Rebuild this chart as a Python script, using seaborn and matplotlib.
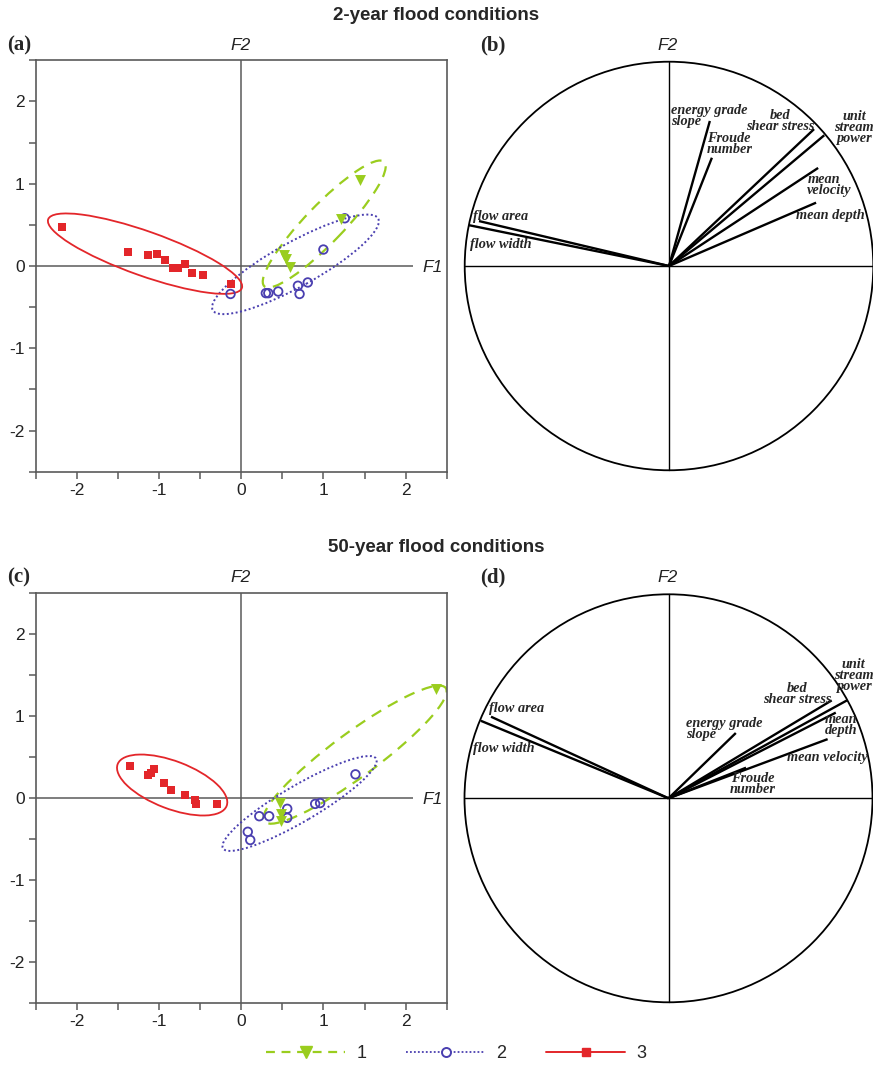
import matplotlib
matplotlib.use('Agg')
import numpy as np
import pandas as pd
import matplotlib.pyplot as plt
import seaborn as sns
from matplotlib.patches import Ellipse, Circle
from matplotlib.ticker import MultipleLocator
from matplotlib.lines import Line2D

# ---- factor scores, 2-year flood (panel a)
a_g1_f1 = [1.45, 1.22, 0.52, 0.55, 0.59]
a_g1_f2 = [1.05, 0.57, 0.13, 0.09, -0.01]
a_g2_f1 = [-0.13, 0.30, 0.33, 0.45, 0.69, 0.71, 0.81, 1.00, 1.26]
a_g2_f2 = [-0.34, -0.33, -0.33, -0.31, -0.24, -0.34, -0.20, 0.20, 0.58]
a_g3_f1 = [-2.18, -1.38, -1.13, -1.03, -0.93, -0.83, -0.77, -0.68, -0.60, -0.46, -0.12]
a_g3_f2 = [0.48, 0.17, 0.13, 0.15, 0.07, -0.03, -0.03, 0.02, -0.08, -0.11, -0.22]

# ---- factor scores, 50-year flood (panel c)
c_g1_f1 = [2.37, 0.47, 0.48, 0.49]
c_g1_f2 = [1.33, -0.06, -0.19, -0.28]
c_g2_f1 = [0.08, 0.11, 0.22, 0.34, 0.56, 0.56, 0.90, 0.96, 1.39]
c_g2_f2 = [-0.41, -0.51, -0.22, -0.22, -0.13, -0.24, -0.07, -0.06, 0.29]
c_g3_f1 = [-1.35, -1.13, -1.10, -1.06, -0.94, -0.85, -0.68, -0.56, -0.55, -0.30]
c_g3_f2 = [0.39, 0.28, 0.31, 0.35, 0.19, 0.10, 0.04, -0.02, -0.07, -0.07]

# group ellipses: centre x, centre y, semi-major, semi-minor, angle (deg)
a_ellipses = {'1': (1.01, 0.51, 1.05, 0.23, 46),
              '2': (0.66, 0.02, 1.15, 0.27, 29),
              '3': (-1.17, 0.15, 1.25, 0.27, -19.5)}
c_ellipses = {'1': (1.385, 0.53, 1.37, 0.27, 36.4),
              '2': (0.71, -0.065, 1.08, 0.22, 30.4),
              '3': (-0.84, 0.16, 0.71, 0.29, -21)}

# ---- correlation circle loadings
variables = ['flow area', 'flow width', 'energy grade slope', 'Froude number',
             'bed shear stress', 'unit stream power', 'mean velocity', 'mean depth']
b_f1 = [-0.93, -0.98, 0.20, 0.21, 0.71, 0.76, 0.73, 0.72]
b_f2 = [0.22, 0.20, 0.71, 0.53, 0.67, 0.64, 0.48, 0.31]
d_f1 = [-0.87, -0.92, 0.33, 0.38, 0.80, 0.875, 0.78, 0.82]
d_f2 = [0.40, 0.38, 0.32, 0.15, 0.48, 0.48, 0.29, 0.42]

# label text, x, y, ha, va
b_labels = [('flow area', -0.957, 0.241, 'left', 'center'),
            ('flow width', -0.973, 0.103, 'left', 'center'),
            ('energy grade\nslope', 0.012, 0.795, 'left', 'top'),
            ('Froude\nnumber', 0.184, 0.655, 'left', 'top'),
            ('bed\nshear stress', 0.545, 0.77, 'center', 'top'),
            ('unit\nstream\npower', 0.906, 0.765, 'center', 'top'),
            ('mean\nvelocity', 0.677, 0.455, 'left', 'top'),
            ('mean depth', 0.62, 0.246, 'left', 'center')]
d_labels = [('flow area', -0.882, 0.441, 'left', 'center'),
            ('flow width', -0.959, 0.245, 'left', 'center'),
            ('energy grade\nslope', 0.087, 0.40, 'left', 'top'),
            ('Froude\nnumber', 0.414, 0.13, 'center', 'top'),
            ('bed\nshear stress', 0.63, 0.57, 'center', 'top'),
            ('unit\nstream\npower', 0.907, 0.69, 'center', 'top'),
            ('mean\ndepth', 0.768, 0.42, 'left', 'top'),
            ('mean velocity', 0.58, 0.20, 'left', 'center')]

GREEN = '#9acd1e'
BLUE = '#4a3fb0'
RED = '#e3262a'
AXGREY = '#5a5a5a'

W, H = 873, 1068

sns.set_theme(style='ticks')
plt.rcParams['font.family'] = ['Liberation Sans', 'DejaVu Sans']
plt.rcParams['axes.unicode_minus'] = False


def px_box(left, top, width, height):
    return [left / W, 1 - (top + height) / H, width / W, height / H]


def fig_text(fig, x, y, s, **kw):
    fig.text(x / W, 1 - y / H, s, **kw)


def hacer_df(g1x, g1y, g2x, g2y, g3x, g3y):
    filas = []
    for grupo, xs, ys in (('1', g1x, g1y), ('2', g2x, g2y), ('3', g3x, g3y)):
        for x, y in zip(xs, ys):
            filas.append({'F1': x, 'F2': y, 'grupo': grupo})
    return pd.DataFrame(filas)


def graficar_scores(ax, df, elipses):
    estilos = {'1': dict(color=GREEN, ls=(0, (5, 3.5)), lw=1.6),
               '2': dict(color=BLUE, ls=(0, (1, 1.3)), lw=1.4),
               '3': dict(color=RED, ls='-', lw=1.3)}
    for g, (cx, cy, a, b, ang) in elipses.items():
        e = Ellipse((cx, cy), 2 * a, 2 * b, angle=ang, fill=False,
                    edgecolor=estilos[g]['color'], linestyle=estilos[g]['ls'],
                    linewidth=estilos[g]['lw'], zorder=2)
        ax.add_patch(e)

    sns.scatterplot(data=df[df.grupo == '3'], x='F1', y='F2', marker='s',
                    color=RED, s=36, edgecolor=RED, linewidth=0, ax=ax, zorder=3)
    sns.scatterplot(data=df[df.grupo == '2'], x='F1', y='F2', marker='o',
                    color=BLUE, s=38, linewidth=1.3, ax=ax, zorder=3)
    ax.collections[-1].set_facecolor('none')
    ax.collections[-1].set_edgecolor(BLUE)
    sns.scatterplot(data=df[df.grupo == '1'], x='F1', y='F2', marker='v',
                    color=GREEN, s=62, edgecolor=GREEN, linewidth=0, ax=ax, zorder=4)

    ax.axvline(0, color=AXGREY, lw=1.1, zorder=1)
    ax.hlines(0, -2.5, 2.09, color=AXGREY, lw=1.1, zorder=1)
    ax.text(2.2, -0.02, 'F1', style='italic', fontsize=12.5, va='center',
            ha='left', color='#222222')

    ax.set_xlim(-2.5, 2.5)
    ax.set_ylim(-2.5, 2.5)
    ax.xaxis.set_major_locator(MultipleLocator(1))
    ax.yaxis.set_major_locator(MultipleLocator(1))
    ax.xaxis.set_minor_locator(MultipleLocator(0.5))
    ax.yaxis.set_minor_locator(MultipleLocator(0.5))
    ax.tick_params(which='both', length=5, width=1.1, color=AXGREY,
                   labelsize=12.5, labelcolor='#222222', pad=3)
    for sp in ax.spines.values():
        sp.set_color(AXGREY)
        sp.set_linewidth(1.2)
    ax.set_xlabel('')
    ax.set_ylabel('')
    if ax.get_legend() is not None:
        ax.get_legend().remove()


def graficar_circulo(ax, fx, fy, etiquetas):
    ax.add_patch(Circle((0, 0), 1, fill=False, edgecolor='black', lw=1.3))
    ax.plot([-1, 1], [0, 0], color='black', lw=1.0)
    ax.plot([0, 0], [-1, 1], color='black', lw=1.0)
    for x, y in zip(fx, fy):
        ax.plot([0, x], [0, y], color='black', lw=1.7, solid_capstyle='butt')
    for texto, x, y, ha, va in etiquetas:
        ax.text(x, y, texto, ha=ha, va=va, multialignment=ha,
                family='Liberation Serif', style='italic', weight='bold',
                fontsize=10.3, linespacing=0.82, clip_on=False)
    ax.set_xlim(-1.05, 1.05)
    ax.set_ylim(-1.05, 1.05)
    ax.set_aspect('equal')
    ax.axis('off')


fig = plt.figure(figsize=(W / 100, H / 100), dpi=100)

ax_a = fig.add_axes(px_box(35.7, 60.3, 411, 411.4))
ax_c = fig.add_axes(px_box(35.7, 593.0, 411, 410.3))
ax_b = fig.add_axes(px_box(669 - 214.5, 266 - 214.5, 429, 429))
ax_d = fig.add_axes(px_box(668.5 - 214.2, 798.3 - 214.2, 428.4, 428.4))

graficar_scores(ax_a, hacer_df(a_g1_f1, a_g1_f2, a_g2_f1, a_g2_f2, a_g3_f1, a_g3_f2), a_ellipses)
graficar_scores(ax_c, hacer_df(c_g1_f1, c_g1_f2, c_g2_f1, c_g2_f2, c_g3_f1, c_g3_f2), c_ellipses)
graficar_circulo(ax_b, b_f1, b_f2, b_labels)
graficar_circulo(ax_d, d_f1, d_f2, d_labels)

# titles and panel labels
fig_text(fig, 436, 16, '2-year flood conditions', ha='center', va='center',
         fontsize=13.5, weight='bold')
fig_text(fig, 436, 548, '50-year flood conditions', ha='center', va='center',
         fontsize=13.5, weight='bold')
for lab, x, y in (('(a)', 7, 45), ('(b)', 480, 45), ('(c)', 7, 577), ('(d)', 480, 577)):
    fig_text(fig, x, y, lab, ha='left', va='center', family='Liberation Serif',
             weight='bold', fontsize=15)
for x, y in ((241, 46), (668, 46), (241, 578), (668, 578)):
    fig_text(fig, x, y, 'F2', ha='center', va='center', style='italic',
             fontsize=12.5, color='#222222')

handles = [Line2D([], [], color=GREEN, ls=(0, (4, 3)), lw=1.6, marker='v',
                  markersize=8, markerfacecolor=GREEN, markeredgecolor=GREEN),
           Line2D([], [], color=BLUE, ls=(0, (1, 1.2)), lw=1.3, marker='o',
                  markersize=6.5, markerfacecolor='white', markeredgecolor=BLUE,
                  markeredgewidth=1.4),
           Line2D([], [], color=RED, ls='-', lw=1.4, marker='s',
                  markersize=6, markerfacecolor=RED, markeredgecolor=RED)]
fig.legend(handles, ['1', '2', '3'], loc='center', ncol=3, frameon=False,
           bbox_to_anchor=(456 / W, 1 - 1054 / H), fontsize=13,
           handlelength=4.4, handletextpad=0.6, columnspacing=2.2)

fig.savefig('out.png', dpi=100)
